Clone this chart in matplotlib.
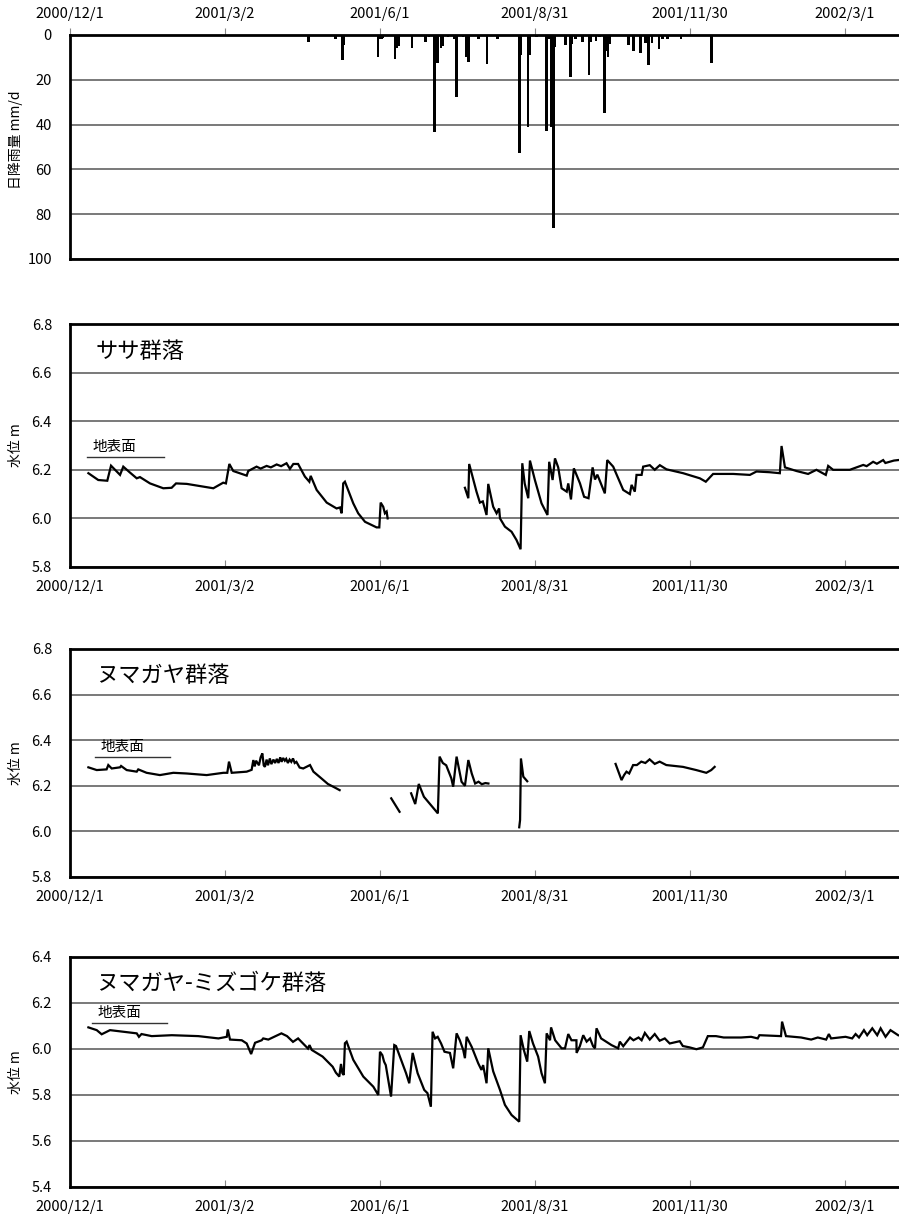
import numpy as np
import matplotlib
matplotlib.use('Agg')
import matplotlib.pyplot as plt

plt.rcParams['font.family'] = ['Noto Sans CJK JP', 'DejaVu Sans']

nan = np.nan

# x axis: days since 2000/12/1
tick_days = [0, 91, 182, 273, 364, 455]
tick_labels = ['2000/12/1', '2001/3/2', '2001/6/1', '2001/8/31', '2001/11/30', '2002/3/1']

# daily rainfall (day offset, mm/d)
rain_day = [140, 156, 160, 161, 181, 182, 183, 184, 191, 192, 193, 201, 209, 211,
            214, 216, 218, 219, 222, 226, 227, 231, 233, 234, 240, 245, 251,
            264, 265, 269, 270, 274, 280, 281, 283, 284, 285, 291, 294, 295, 297,
            301, 305, 306, 309, 311, 314, 315, 316, 317, 328, 331, 335, 338, 340,
            342, 346, 348, 351, 359, 367, 377]
rain_mm = [3, 2, 11, 4.5, 10, 2, 2, 1.5, 10.5, 6, 5, 6, 3, 1,
           43.5, 12.5, 6, 5, 1, 2, 27.5, 1, 10, 12, 2, 13, 2,
           52.5, 9, 41, 9, 1, 42.7, 2, 41, 86, 5.5, 4.5, 18.7, 4, 2,
           3, 18, 3, 2.5, 1, 34.7, 7, 9.7, 4, 4.5, 7, 8, 3.7, 13.4,
           3.7, 6.4, 2, 2, 1.8, 0.5, 12.3]

# water level, ササ群落 (m)
sasa_day = [10.8, 16.6, 21.9, 24.1, 29.4, 31.3, 35, 39.2, 41.1, 47, 54.8, 59.7, 62.3,
            68.6, 76.4, 84.2, 90, 91.6, 93.6, 95.9, 103.8, 104.7, 109.6, 112, 115.5,
            118, 121.4, 124, 127.2, 129.2, 131.2, 134, 138, 140.6, 141.4, 144.9,
            150.8, 156.6, 158.6, 159.6, 160.5, 161.5, 166.4, 169.3, 173.3, 180.1,
            181.7, 182.5, 184, 185, 186, 186.6,
            nan,
            232, 234, 234.5, 238.8, 240.8, 242.5, 244.7, 245.7, 248.6, 250.6, 252.1,
            252.6, 255.5, 259.4, 262.3, 264.7, 265.7, 267.1, 269.2, 270.2, 273.1,
            277, 280.5, 281.5, 283.5, 284.9, 286.8, 288.8, 291.8, 292.7, 294.3, 296,
            299.6, 302, 304.6, 307, 308.4, 309.8, 314.2, 315.6, 319.1, 325, 328.9,
            329.9, 331.8, 332.8, 335.8, 336.7, 340.6, 343.5, 346.5, 350.4, 360.2,
            370, 373.5, 377.8, 389.6, 399.4, 403.3, 411.1, 417, 418, 420, 426.8,
            433.6, 438.5, 444, 445.4, 448.3, 458.1, 462, 466, 468, 471.8, 474,
            477.7, 479, 481.6, 484, 486.5]
sasa_lv = [6.186, 6.158, 6.155, 6.217, 6.179, 6.213, 6.19, 6.165, 6.17, 6.144, 6.124, 6.126, 6.144,
           6.142, 6.133, 6.124, 6.147, 6.144, 6.224, 6.195, 6.176, 6.195, 6.213, 6.205, 6.216,
           6.21, 6.222, 6.215, 6.227, 6.204, 6.224, 6.224, 6.172, 6.151, 6.175, 6.117,
           6.065, 6.041, 6.045, 6.021, 6.144, 6.151, 6.062, 6.021, 5.986, 5.963,
           5.963, 6.065, 6.048, 6.021, 6.028, 6.0,
           nan,
           6.126, 6.083, 6.224, 6.110, 6.065, 6.07, 6.014, 6.142, 6.048, 6.021, 6.041,
           6.0, 5.966, 5.945, 5.911, 5.873, 6.227, 6.144, 6.083, 6.238, 6.158,
           6.062, 6.014, 6.233, 6.158, 6.247, 6.21, 6.124, 6.11, 6.144, 6.078, 6.206,
           6.144, 6.089, 6.083, 6.210, 6.16, 6.18, 6.103, 6.240, 6.213, 6.117, 6.10,
           6.138, 6.11, 6.179, 6.179, 6.213, 6.219, 6.20, 6.219, 6.202, 6.186,
           6.165, 6.151, 6.183, 6.183, 6.179, 6.193, 6.19, 6.186, 6.298, 6.21, 6.195,
           6.183, 6.2, 6.179, 6.216, 6.2, 6.2, 6.21, 6.22, 6.215, 6.233, 6.225,
           6.24, 6.228, 6.233, 6.238, 6.24]

# water level, ヌマガヤ群落 (m)
numa_day = [10.8, 15.7, 21.5, 22.5, 24.5, 29.4, 30, 33.3, 39.2, 40.1, 45, 52.8, 60.7,
            68.5, 80.3, 90.1, 92.4, 93.4, 95, 103.8, 106.7, 107.7, 108.5, 109.3, 111,
            112, 113, 113.8, 114.5, 115.5, 116.3, 117.4, 118.3, 119.5, 120.5, 121.5,
            122.5, 123.5, 124.3, 125.2, 126.2, 127, 128, 129, 130, 131, 132, 133,
            134.9, 137, 141, 143,
            147.6, 151.5, 155.4, 158.4,
            nan, 188.7, 193.6,
            nan, 200.4, 202.8, 204.9, 207.9, 216.1, 217.1, 219, 221, 224, 225.1,
            227.1, 230, 232, 234, 236, 238, 240, 241.9, 244, 245.8,
            nan, 263.9, 264.4, 264.9, 266.3, 268.6,
            nan, 320.5, 324, 325.5, 326.9, 328.5, 330.8, 333, 335.6, 338, 340.5,
            343.5, 346.4, 350.3, 360.1, 367.9, 373.8, 376.7, 378.7]
numa_lv = [6.281, 6.269, 6.272, 6.291, 6.276, 6.281, 6.287, 6.269, 6.262, 6.272, 6.257, 6.247, 6.257,
           6.254, 6.247, 6.257, 6.257, 6.306, 6.257, 6.262, 6.27, 6.313, 6.285, 6.31, 6.29,
           6.325, 6.342, 6.29, 6.283, 6.315, 6.29, 6.32, 6.295, 6.315, 6.30, 6.318,
           6.30, 6.325, 6.305, 6.322, 6.31, 6.318, 6.30, 6.315, 6.305, 6.32, 6.30, 6.305,
           6.28, 6.276, 6.291, 6.262,
           6.233, 6.208, 6.193, 6.181,
           nan, 6.145, 6.086,
           nan, 6.167, 6.12, 6.208, 6.152, 6.079, 6.328, 6.30, 6.29, 6.233, 6.196,
           6.328, 6.218, 6.2, 6.313, 6.254, 6.21, 6.218, 6.207, 6.212, 6.21,
           nan, 6.018, 6.05, 6.32, 6.24, 6.22,
           nan, 6.296, 6.225, 6.247, 6.262, 6.254, 6.291, 6.291, 6.306, 6.30, 6.316,
           6.296, 6.306, 6.291, 6.283, 6.269, 6.257, 6.269, 6.283]

# water level, ヌマガヤ-ミズゴケ群落 (m)
mizu_day = [10.8, 15.7, 18.6, 23.5, 31.3, 39.2, 40.5, 42, 48, 59.8, 75.4, 87.2, 92.1,
            92.7, 94, 100.9, 103.8, 106.4, 108.7, 112.6, 113.5, 116.5, 124.2, 127.5,
            131, 134, 136.9, 139.8, 140.7, 142, 148.4, 154.3, 156.2, 158.2, 159.2,
            160, 160.8, 161.5, 162.5, 166.4, 172.3, 178.2, 181.1, 182.1, 183.5, 184.5,
            185.5, 188.6, 190.5, 191.5, 197.4, 199.3, 201.3, 204.2, 208.1, 210, 212,
            213, 214.5, 216, 218, 220, 223.2, 225.1, 227.1, 229, 231, 232, 233, 236,
            239.8, 241.7, 242.7, 244.7, 245.7, 248.6, 252.6, 255.5, 259.4, 263.9,
            264.7, 266.6, 268.6, 269.8, 272, 275, 277, 279, 280, 282, 282.6, 285,
            288.8, 290.8, 292.7, 294.6, 297.5, 297.6, 299.5, 301.5, 303.5, 305.5,
            307.3, 308.4, 309.3, 312, 318.1, 322, 323, 325, 329, 331, 334, 335.8,
            337.7, 340.6, 343.5, 346.4, 349.4, 352.3, 358.2, 360, 364, 368, 371.8,
            374.7, 379.5, 384, 394.2, 400.1, 404, 405, 417.7, 418.3, 420.6, 429.5,
            435.4, 439.3, 444.2, 445.8, 447.1, 455.6, 459.5, 461.5, 463.5, 466.4,
            468.3, 471.3, 474.2, 476.2, 479.1, 482, 486.5]
mizu_lv = [6.094, 6.082, 6.064, 6.082, 6.075, 6.068, 6.053, 6.065, 6.056, 6.06, 6.056, 6.046, 6.053,
           6.085, 6.041, 6.038, 6.024, 5.978, 6.027, 6.038, 6.046, 6.041, 6.068, 6.056,
           6.031, 6.046, 6.024, 6.002, 6.017, 5.996, 5.967, 5.923, 5.897, 5.88, 5.935,
           5.895, 5.887, 6.025, 6.032, 5.953, 5.88, 5.836, 5.80, 5.988, 5.973, 5.945,
           5.93, 5.793, 6.017, 6.013, 5.895, 5.851, 5.983, 5.895, 5.822, 5.808, 5.749,
           6.075, 6.046, 6.053, 6.024, 5.988, 5.983, 5.916, 6.068, 6.038, 5.996, 5.96, 6.053, 6.009,
           5.938, 5.909, 5.93, 5.851, 6.003, 5.903, 5.822, 5.757, 5.713, 5.684,
           6.06, 5.996, 5.945, 6.078, 6.024, 5.967, 5.895, 5.851, 6.068, 6.038, 6.094, 6.038,
           6.003, 6.003, 6.065, 6.038, 6.038, 5.983, 6.012, 6.06, 6.032, 6.046,
           6.012, 6.003, 6.09, 6.046, 6.017, 6.003, 6.032, 6.012, 6.05, 6.038, 6.05, 6.038,
           6.07, 6.041, 6.065, 6.036, 6.046, 6.024, 6.034, 6.013, 6.007, 5.999, 6.007,
           6.056, 6.056, 6.05, 6.05, 6.053, 6.046, 6.06, 6.056, 6.119, 6.056, 6.05,
           6.041, 6.05, 6.041, 6.065, 6.046, 6.053, 6.046, 6.065, 6.05, 6.082,
           6.06, 6.09, 6.06, 6.09, 6.053, 6.082, 6.06]

# ground surface levels (地表面)
ground_lv = [6.253, 6.328, 6.114]
ground_days = [(10, 55), (14.7, 58.7), (12.9, 57)]

titles = ['ササ群落', 'ヌマガヤ群落', 'ヌマガヤ-ミズゴケ群落']
level_ylims = [(5.8, 6.8), (5.8, 6.8), (5.4, 6.4)]
level_yticks = [[5.8, 6.0, 6.2, 6.4, 6.6, 6.8], [5.8, 6.0, 6.2, 6.4, 6.6, 6.8],
                [5.4, 5.6, 5.8, 6.0, 6.2, 6.4]]
rain_yticks = [0, 20, 40, 60, 80, 100]

W_PX, H_PX = 899, 1220
fig = plt.figure(figsize=(W_PX / 100, H_PX / 100), dpi=100)
LEFT = 70


def add_ax(top, bottom):
    return fig.add_axes([LEFT / W_PX, 1 - bottom / H_PX, 1 - LEFT / W_PX, (bottom - top) / H_PX])


def common(ax, ylim, yticks, fmt):
    ax.set_xlim(0, 487)
    ax.set_ylim(*ylim)
    ax.set_yticks(yticks)
    ax.set_yticklabels([fmt.format(v) for v in yticks])
    ax.tick_params(axis='y', length=0, pad=13, labelsize=10.5)
    ax.set_xticks(tick_days)
    ax.set_xticklabels(tick_labels)
    for s in ['left', 'bottom', 'top']:
        ax.spines[s].set_linewidth(2)
        ax.spines[s].set_color('black')
    ax.spines['right'].set_visible(False)
    ax.grid(axis='y', color='#555555', lw=1.1)
    ax.grid(axis='x', visible=False)
    ax.set_axisbelow(True)


# rainfall panel
ax1 = add_ax(35, 259)
common(ax1, (100, 0), rain_yticks, '{:d}')
ax1.xaxis.tick_top()
ax1.tick_params(axis='x', direction='out', length=5, color='#888888', pad=5, labelsize=10.5)
ax1.bar(rain_day, rain_mm, width=1.5, color='black', align='center')
fig.text(16 / W_PX, 1 - 140 / H_PX, '日降雨量 mm/d', rotation=90, ha='center', va='center', fontsize=10)

# level panels
panel_px = [(324, 567), (649, 877), (957, 1187)]
series = [(sasa_day, sasa_lv), (numa_day, numa_lv), (mizu_day, mizu_lv)]
for i in range(3):
    top, bottom = panel_px[i]
    ax = add_ax(top, bottom)
    common(ax, level_ylims[i], level_yticks[i], '{:.1f}')
    ax.tick_params(axis='x', direction='in', length=5, color='#888888', pad=9, labelsize=10.5)
    d, v = series[i]
    ax.plot(d, v, color='black', lw=1.6, solid_joinstyle='miter')
    g0, g1 = ground_days[i]
    ax.plot([g0, g1], [ground_lv[i], ground_lv[i]], color='#333333', lw=1.0)
    ax.text(g0 + 3.5, ground_lv[i] + 0.012, '地表面', fontsize=10.5, ha='left', va='bottom')
    ax.text(0.031, 0.885, titles[i], transform=ax.transAxes, fontsize=16, ha='left', va='center')
    fig.text(16 / W_PX, 1 - (top + bottom) / 2 / H_PX, '水位 m', rotation=90, ha='center', va='center', fontsize=10)

fig.savefig('out.png', dpi=100)
